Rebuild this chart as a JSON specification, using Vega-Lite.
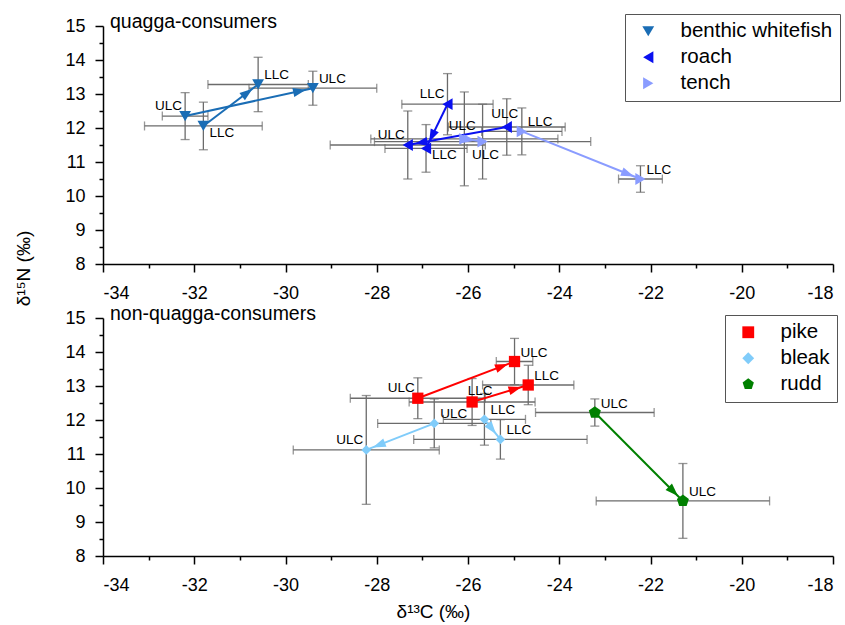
{
  "$schema": "https://vega.github.io/schema/vega-lite/v6.json",
  "background": "white",
  "padding": {"left": 14, "top": 12, "right": 4, "bottom": 4},
  "config": {
    "view": {"stroke": null},
    "font": "Liberation Sans",
    "axis": {"domainColor": "black", "domainWidth": 1.5, "tickColor": "black", "tickWidth": 1.5, "labelColor": "black", "labelFontSize": 18, "labelFont": "Liberation Sans", "grid": false, "titleFont": "Liberation Sans", "titleFontSize": 19, "titleFontWeight": "normal", "titleColor": "black"},
    "axisX": {"labelPadding": 12},
    "axisY": {"labelPadding": 10},
    "legend": {"strokeColor": "#555555", "fillColor": "white", "padding": 7, "labelFontSize": 20.5, "labelFont": "Liberation Sans", "labelColor": "black", "symbolSize": 140, "rowPadding": 5, "labelOffset": 22, "symbolOffset": 6, "labelLimit": 300}
  },
  "datasets": {
    "q": [
      {"id": "w1", "species": "benthic whitefish", "label": "ULC", "x": -32.2, "y": 12.35, "xerr": 0.5, "yerr": 0.69},
      {"id": "w2", "species": "benthic whitefish", "label": "LLC", "x": -31.8, "y": 12.06, "xerr": 1.29, "yerr": 0.7},
      {"id": "w3", "species": "benthic whitefish", "label": "LLC", "x": -30.6, "y": 13.28, "xerr": 1.1, "yerr": 0.8},
      {"id": "w4", "species": "benthic whitefish", "label": "ULC", "x": -29.4, "y": 13.17, "xerr": 1.4, "yerr": 0.5},
      {"id": "r1", "species": "roach", "label": "LLC", "x": -26.45, "y": 12.7, "xerr": 1.0, "yerr": 0.9},
      {"id": "r2", "species": "roach", "label": "ULC", "x": -25.15, "y": 12.03, "xerr": 1.28, "yerr": 0.83},
      {"id": "r3", "species": "roach", "label": "ULC", "x": -27.32, "y": 11.5, "xerr": 1.7, "yerr": 1.0},
      {"id": "r4", "species": "roach", "label": "LLC", "x": -26.92, "y": 11.4, "xerr": 0.9, "yerr": 0.7},
      {"id": "t1", "species": "tench", "label": "ULC", "x": -26.08, "y": 11.68, "xerr": 2.05, "yerr": 1.38},
      {"id": "t2", "species": "tench", "label": "ULC", "x": -25.68, "y": 11.6, "xerr": 2.37, "yerr": 1.1},
      {"id": "t3", "species": "tench", "label": "LLC", "x": -24.82, "y": 11.9, "xerr": 0.88, "yerr": 0.69},
      {"id": "t4", "species": "tench", "label": "LLC", "x": -22.22, "y": 10.5, "xerr": 0.48, "yerr": 0.39}
    ],
    "qa": [
      {"species": "benthic whitefish", "x0": -32.2, "y0": 12.35, "x": -29.4, "y": 13.17},
      {"species": "benthic whitefish", "x0": -31.8, "y0": 12.06, "x": -30.6, "y": 13.28},
      {"species": "roach", "x0": -26.45, "y0": 12.7, "x": -26.92, "y": 11.4},
      {"species": "roach", "x0": -25.15, "y0": 12.03, "x": -27.32, "y": 11.5},
      {"species": "tench", "x0": -26.08, "y0": 11.68, "x": -25.68, "y": 11.6},
      {"species": "tench", "x0": -24.82, "y0": 11.9, "x": -22.22, "y": 10.5}
    ],
    "nq": [
      {"id": "p1", "species": "pike", "label": "ULC", "x": -27.1, "y": 12.64, "xerr": 1.48, "yerr": 0.6},
      {"id": "p2", "species": "pike", "label": "ULC", "x": -24.98, "y": 13.72, "xerr": 0.4, "yerr": 0.68},
      {"id": "p3", "species": "pike", "label": "LLC", "x": -25.91, "y": 12.53, "xerr": 1.38, "yerr": 0.69},
      {"id": "p4", "species": "pike", "label": "LLC", "x": -24.68, "y": 13.03, "xerr": 1.0, "yerr": 0.58},
      {"id": "b1", "species": "bleak", "label": "ULC", "x": -26.74, "y": 11.9, "xerr": 1.24, "yerr": 0.72},
      {"id": "b2", "species": "bleak", "label": "ULC", "x": -28.23, "y": 11.12, "xerr": 1.6, "yerr": 1.6},
      {"id": "b3", "species": "bleak", "label": "LLC", "x": -25.64, "y": 12.02, "xerr": 0.9, "yerr": 0.76},
      {"id": "b4", "species": "bleak", "label": "LLC", "x": -25.29, "y": 11.43, "xerr": 1.9, "yerr": 0.58},
      {"id": "d1", "species": "rudd", "label": "ULC", "x": -23.22, "y": 12.22, "xerr": 1.3, "yerr": 0.4},
      {"id": "d2", "species": "rudd", "label": "ULC", "x": -21.29, "y": 9.62, "xerr": 1.9, "yerr": 1.1}
    ],
    "nqa": [
      {"species": "pike", "x0": -27.1, "y0": 12.64, "x": -24.98, "y": 13.72},
      {"species": "pike", "x0": -25.91, "y0": 12.53, "x": -24.68, "y": 13.03},
      {"species": "bleak", "x0": -26.74, "y0": 11.9, "x": -28.23, "y": 11.12},
      {"species": "bleak", "x0": -25.64, "y0": 12.02, "x": -25.29, "y": 11.43},
      {"species": "rudd", "x0": -23.22, "y0": 12.22, "x": -21.29, "y": 9.62}
    ],
    "panels": [
      {"panel": "quagga-consumers", "x": -34, "y": 15},
      {"panel": "non-quagga-consumers", "x": -34, "y": 15}
    ]
  },
  "spacing": 54,
  "bounds": "flush",
  "resolve": {"scale": {"color": "independent", "shape": "independent", "size": "independent", "stroke": "independent", "fill": "independent"}, "legend": {"color": "independent", "shape": "independent"}},
  "vconcat": [
    {
      "width": 730,
      "height": 238,
      "encoding": {
        "x": {"field": "x", "type": "quantitative", "scale": {"domain": [-34, -18], "nice": false},
          "axis": {"title": null, "values": [-34, -33, -32, -31, -30, -29, -28, -27, -26, -25, -24, -23, -22, -21, -20, -19, -18],
            "tickSize": {"condition": {"test": "datum.value % 2 === 0", "value": 8}, "value": 4},
            "labelExpr": "datum.value % 2 === 0 ? '' + datum.value : ''"}},
        "y": {"field": "y", "type": "quantitative", "scale": {"domain": [8, 15], "nice": false},
          "axis": {"title": null, "values": [8, 8.5, 9, 9.5, 10, 10.5, 11, 11.5, 12, 12.5, 13, 13.5, 14, 14.5, 15],
            "tickSize": {"condition": {"test": "datum.value % 1 === 0", "value": 8}, "value": 4},
            "labelExpr": "datum.value % 1 === 0 ? '' + datum.value : ''"}}
      },
      "layer": [
        {"data": {"name": "panels"}, "transform": [{"filter": {"field": "panel", "equal": "quagga-consumers"}}],
          "mark": {"type": "text", "align": "left", "baseline": "alphabetic", "dx": 7, "dy": 2, "fontSize": 19.5, "color": "black"},
          "encoding": {"text": {"field": "panel"}}},
        {"data": {"name": "q"}, "mark": {"type": "errorbar", "ticks": {"size": 9, "color": "#6b6b6b", "thickness": 1.3}, "color": "#6b6b6b", "thickness": 1.3},
          "encoding": {"xError": {"field": "xerr"}}},
        {"data": {"name": "q"}, "mark": {"type": "errorbar", "ticks": {"size": 9, "color": "#6b6b6b", "thickness": 1.3}, "color": "#6b6b6b", "thickness": 1.3},
          "encoding": {"yError": {"field": "yerr"}}},
        {"data": {"name": "qa"}, "mark": {"type": "rule", "strokeWidth": 2},
          "encoding": {"x2": {"field": "x0"}, "y2": {"field": "y0"},
            "stroke": {"field": "species", "type": "nominal", "legend": null, "scale": {"domain": ["tench", "roach", "benthic whitefish"], "range": ["#8a9cff", "#0a10f0", "#1a6db5"]}}}},
        {"data": {"name": "qa"},
          "transform": [{"calculate": "atan2(-(datum.y - datum.y0) * 34, (datum.x - datum.x0) * 45.625) * 180 / PI", "as": "ang"}],
          "mark": {"type": "point", "filled": true, "opacity": 1, "size": 400, "shape": "M-0.7,0L-2,-0.45L-2,0.45Z"},
          "encoding": {"angle": {"field": "ang", "type": "quantitative", "scale": null},
            "fill": {"field": "species", "type": "nominal", "legend": null, "scale": {"domain": ["roach", "tench", "benthic whitefish"], "range": ["#0a10f0", "#8a9cff", "#1a6db5"]}}}},
        {"data": {"name": "q"}, "mark": {"type": "point", "filled": true, "opacity": 1, "size": 140},
          "encoding": {
            "color": {"field": "species", "type": "nominal", "scale": {"domain": ["benthic whitefish", "roach", "tench"], "range": ["#1a6db5", "#0a10f0", "#8a9cff"]},
              "legend": {"title": null, "orient": "none", "legendX": 522, "legendY": -12}},
            "shape": {"field": "species", "type": "nominal", "scale": {"domain": ["benthic whitefish", "roach", "tench"], "range": ["triangle-down", "triangle-left", "triangle-right"]},
              "legend": {"title": null, "orient": "none", "legendX": 522, "legendY": -12}}
          }},
        {"data": {"name": "q"}, "transform": [{"filter": {"field": "id", "oneOf": ["w3", "w4", "t3", "t4"]}}],
          "mark": {"type": "text", "align": "left", "baseline": "middle", "dx": 6, "dy": -9, "fontSize": 13.5, "color": "black"},
          "encoding": {"text": {"field": "label"}}},
        {"data": {"name": "q"}, "transform": [{"filter": {"field": "id", "oneOf": ["w1", "r1", "r3"]}}],
          "mark": {"type": "text", "align": "right", "baseline": "middle", "dx": -3, "dy": -10, "fontSize": 13.5, "color": "black"},
          "encoding": {"text": {"field": "label"}}},
        {"data": {"name": "q"}, "transform": [{"filter": {"field": "id", "oneOf": ["w2", "r4"]}}],
          "mark": {"type": "text", "align": "left", "baseline": "middle", "dx": 6, "dy": 7, "fontSize": 13.5, "color": "black"},
          "encoding": {"text": {"field": "label"}}},
        {"data": {"name": "q"}, "transform": [{"filter": {"field": "id", "oneOf": ["r2", "t1"]}}],
          "mark": {"type": "text", "align": "center", "baseline": "middle", "dx": -2, "dy": -13, "fontSize": 13.5, "color": "black"},
          "encoding": {"text": {"field": "label"}}},
        {"data": {"name": "q"}, "transform": [{"filter": {"field": "id", "oneOf": ["t2"]}}],
          "mark": {"type": "text", "align": "center", "baseline": "middle", "dx": 3, "dy": 13, "fontSize": 13.5, "color": "black"},
          "encoding": {"text": {"field": "label"}}}
      ]
    },
    {
      "width": 730,
      "height": 238,
      "encoding": {
        "x": {"field": "x", "type": "quantitative", "scale": {"domain": [-34, -18], "nice": false},
          "axis": {"title": "δ¹³C (‰)", "titleX": 330, "titlePadding": 8, "values": [-34, -33, -32, -31, -30, -29, -28, -27, -26, -25, -24, -23, -22, -21, -20, -19, -18],
            "tickSize": {"condition": {"test": "datum.value % 2 === 0", "value": 8}, "value": 4},
            "labelExpr": "datum.value % 2 === 0 ? '' + datum.value : ''"}},
        "y": {"field": "y", "type": "quantitative", "scale": {"domain": [8, 15], "nice": false},
          "axis": {"title": "δ¹⁵N (‰)", "titleX": -80, "titleY": -50, "titleBaseline": "middle", "titleAlign": "center", "values": [8, 8.5, 9, 9.5, 10, 10.5, 11, 11.5, 12, 12.5, 13, 13.5, 14, 14.5, 15],
            "tickSize": {"condition": {"test": "datum.value % 1 === 0", "value": 8}, "value": 4},
            "labelExpr": "datum.value % 1 === 0 ? '' + datum.value : ''"}}
      },
      "layer": [
        {"data": {"name": "panels"}, "transform": [{"filter": {"field": "panel", "equal": "non-quagga-consumers"}}],
          "mark": {"type": "text", "align": "left", "baseline": "alphabetic", "dx": 7, "dy": 2, "fontSize": 19.5, "color": "black"},
          "encoding": {"text": {"field": "panel"}}},
        {"data": {"name": "nq"}, "mark": {"type": "errorbar", "ticks": {"size": 9, "color": "#6b6b6b", "thickness": 1.3}, "color": "#6b6b6b", "thickness": 1.3},
          "encoding": {"xError": {"field": "xerr"}}},
        {"data": {"name": "nq"}, "mark": {"type": "errorbar", "ticks": {"size": 9, "color": "#6b6b6b", "thickness": 1.3}, "color": "#6b6b6b", "thickness": 1.3},
          "encoding": {"yError": {"field": "yerr"}}},
        {"data": {"name": "nqa"}, "mark": {"type": "rule", "strokeWidth": 2},
          "encoding": {"x2": {"field": "x0"}, "y2": {"field": "y0"},
            "stroke": {"field": "species", "type": "nominal", "legend": null, "scale": {"domain": ["rudd", "bleak", "pike"], "range": ["#008000", "#80ccfa", "#ff0000"]}}}},
        {"data": {"name": "nqa"},
          "transform": [{"calculate": "atan2(-(datum.y - datum.y0) * 34, (datum.x - datum.x0) * 45.625) * 180 / PI", "as": "ang"}],
          "mark": {"type": "point", "filled": true, "opacity": 1, "size": 400, "shape": "M-0.7,0L-2,-0.45L-2,0.45Z"},
          "encoding": {"angle": {"field": "ang", "type": "quantitative", "scale": null},
            "fill": {"field": "species", "type": "nominal", "legend": null, "scale": {"domain": ["bleak", "rudd", "pike"], "range": ["#80ccfa", "#008000", "#ff0000"]}}}},
        {"data": {"name": "nq"}, "mark": {"type": "point", "filled": true, "opacity": 1},
          "encoding": {
            "color": {"field": "species", "type": "nominal", "scale": {"domain": ["pike", "bleak", "rudd"], "range": ["#ff0000", "#80ccfa", "#008000"]},
              "legend": {"title": null, "orient": "none", "legendX": 622, "legendY": -3}},
            "shape": {"field": "species", "type": "nominal", "scale": {"domain": ["pike", "bleak", "rudd"], "range": ["square", "diamond", "M0,-1L0.951,-0.309L0.588,0.809L-0.588,0.809L-0.951,-0.309Z"]},
              "legend": {"title": null, "orient": "none", "legendX": 622, "legendY": -3}},
            "size": {"field": "species", "type": "nominal", "legend": null, "scale": {"domain": ["rudd", "pike", "bleak"], "range": [160, 95, 190]}}
          }},
        {"data": {"name": "nq"}, "transform": [{"filter": {"field": "id", "oneOf": ["p2", "p4", "b1", "b3", "b4", "d1", "d2"]}}],
          "mark": {"type": "text", "align": "left", "baseline": "middle", "dx": 6, "dy": -9, "fontSize": 13.5, "color": "black"},
          "encoding": {"text": {"field": "label"}}},
        {"data": {"name": "nq"}, "transform": [{"filter": {"field": "id", "oneOf": ["p1", "b2"]}}],
          "mark": {"type": "text", "align": "right", "baseline": "middle", "dx": -3, "dy": -10, "fontSize": 13.5, "color": "black"},
          "encoding": {"text": {"field": "label"}}},
        {"data": {"name": "nq"}, "transform": [{"filter": {"field": "id", "oneOf": ["p3"]}}],
          "mark": {"type": "text", "align": "center", "baseline": "middle", "dx": 8, "dy": -11, "fontSize": 13.5, "color": "black"},
          "encoding": {"text": {"field": "label"}}}
      ]
    }
  ]
}
